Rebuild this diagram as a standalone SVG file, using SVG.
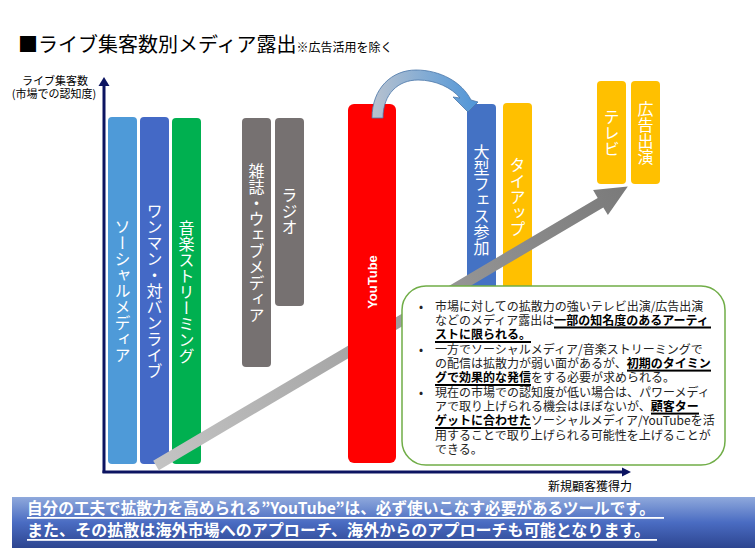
<svg xmlns="http://www.w3.org/2000/svg" width="755" height="551" viewBox="0 0 755 551">
<style>
.jp{font-family:"Noto Sans CJK JP","Noto Sans CJK SC",sans-serif;}
.vt{font-family:"Noto Sans CJK JP","Noto Sans CJK SC",sans-serif;font-size:16px;fill:#fff;writing-mode:vertical-rl;text-anchor:middle;}
.bt{font-family:"Noto Sans CJK JP","Noto Sans CJK SC",sans-serif;font-size:12px;fill:#222;}
.b{font-weight:bold;fill:#000;}
.ul{fill:#000;}
.bn{font-family:"Noto Sans CJK JP","Noto Sans CJK SC",sans-serif;font-size:16px;font-weight:bold;fill:#fff;}
</style>
<defs>
<linearGradient id="gGrey" gradientUnits="userSpaceOnUse" x1="156" y1="465" x2="627" y2="186">
<stop offset="0" stop-color="#c4c4c4"/><stop offset="1" stop-color="#7a7a7a"/>
</linearGradient>
<linearGradient id="gCurve" gradientUnits="userSpaceOnUse" x1="372" y1="0" x2="478" y2="0">
<stop offset="0" stop-color="#b8c2cf"/><stop offset="1" stop-color="#4e95d8"/>
</linearGradient>
<linearGradient id="gBanner" x1="0" y1="0" x2="0" y2="1">
<stop offset="0" stop-color="#8fa9dc"/><stop offset="0.5" stop-color="#4a6cc2"/><stop offset="1" stop-color="#2d4590"/>
</linearGradient>
</defs>
<rect width="755" height="551" fill="#fff"/>

<g id="title">
<text class="jp" x="18" y="52" font-size="20" fill="#000">■ライブ集客数別メディア露出<tspan font-size="12">※広告活用を除く</tspan></text>
</g>
<g id="axis-labels">
<text class="jp" font-size="11" text-anchor="middle" fill="#000"><tspan x="55" y="85">ライブ集客数</tspan><tspan x="54" y="98">(市場での認知度)</tspan></text>
<text class="jp" x="590" y="491" font-size="12" text-anchor="middle" fill="#000">新規顧客獲得力</text>
</g>

<g id="axes" fill="#0c1461">
<rect x="102.5" y="83" width="3" height="390"/>
<polygon points="104,77 98.5,86 109.5,86"/>
<rect x="102.5" y="470.5" width="522" height="3"/>
<polygon points="631,472 622,467.5 622,476.5"/>
</g>

<g id="n-social"><rect x="108" y="117" width="29" height="347" rx="4" fill="#4e9ad8"/><text class="vt" x="122.5" y="291">ソーシャルメディア</text></g>
<g id="n-oneman"><rect x="140" y="117" width="29" height="347" rx="4" fill="#4469c6"/><text class="vt" x="154.5" y="291">ワンマン・対バンライブ</text></g>
<g id="n-streaming"><rect x="172" y="118" width="29" height="346" rx="4" fill="#00b050"/><text class="vt" x="186.5" y="292">音楽ストリーミング</text></g>
<g id="n-magazine"><rect x="242" y="118" width="29" height="249" rx="4" fill="#767171"/><text class="vt" x="256.5" y="243">雑誌・ウェブメディア</text></g>
<g id="n-radio"><rect x="275" y="118" width="29" height="188" rx="4" fill="#767171"/><text class="vt" x="289.5" y="211">ラジオ</text></g>
<g id="n-fes"><rect x="467" y="104" width="29" height="300" rx="4" fill="#4472c4"/><text class="vt" x="481.5" y="200">大型フェス参加</text></g>
<g id="n-tieup"><rect x="503" y="103" width="29" height="300" rx="4" fill="#ffc000"/><text class="vt" x="517.5" y="197">タイアップ</text></g>
<g id="n-tv"><rect x="597" y="81" width="29" height="103" rx="4" fill="#ffc000"/><text class="vt" x="611.5" y="133">テレビ</text></g>
<g id="n-ad"><rect x="631" y="81" width="29" height="103" rx="4" fill="#ffc000"/><text class="vt" x="645.5" y="133">広告出演</text></g>
<g id="n-youtube"><rect x="348" y="104" width="48" height="359" rx="6" fill="#ff0000"/><text x="372" y="282" transform="rotate(-90 372 282)" text-anchor="middle" dominant-baseline="central" font-family="Liberation Sans, Arial, sans-serif" font-weight="bold" font-size="13" fill="#fff">YouTube</text></g>

<g id="connectors">
<polygon fill="url(#gGrey)" points="153.2,460.8 158.8,470.2 348,358.4 348,345.7"/>
<polygon fill="url(#gGrey)" points="396,317.3 396,330 603.3,207.4 607.9,215 627.8,186.4 593.1,190 597.7,198"/>
<path fill="url(#gCurve)" stroke="#4a76a8" stroke-width="0.8" d="M372,118 C372,88 392,70 416,70 C440,70 462,82 471,100 L478,102 L468,112 L453,97 L460,98 C452,88 436,80 418,80 C398,80 383,94 383,118 Z"/>
</g>

<g id="n-note">
<rect x="402" y="286" width="323" height="179" rx="24" fill="#fff" stroke="#70ad47" stroke-width="1.5"/>
<text class="bt" font-size="10"><tspan x="419" y="310.5">•</tspan><tspan x="419" y="353.5">•</tspan><tspan x="419" y="396.6">•</tspan></text>
<text class="bt"><tspan x="435" y="310.5">市場に対しての拡散力の強いテレビ出演/広告出演</tspan><tspan x="435" y="324.8">などのメディア露出は</tspan><tspan class="b">一部の知名度のあるアーティ</tspan><tspan class="b" x="435" y="339.2">ストに限られる。</tspan><tspan x="435" y="353.5">一方でソーシャルメディア/音楽ストリーミングで</tspan><tspan x="435" y="367.9">の配信は拡散力が弱い面があるが、</tspan><tspan class="b">初期のタイミン</tspan><tspan class="b" x="435" y="382.2">グで効果的な発信</tspan><tspan>をする必要が求められる。</tspan><tspan x="435" y="396.6">現在の市場での認知度が低い場合は、パワーメディ</tspan><tspan x="435" y="410.9">アで取り上げられる機会はほぼないが、</tspan><tspan class="b">顧客ター</tspan><tspan class="b" x="435" y="425.3">ゲットに合わせた</tspan><tspan>ソーシャルメディア/YouTubeを活</tspan><tspan x="435" y="439.6">用することで取り上げられる可能性を上げることが</tspan><tspan x="435" y="454">できる。</tspan></text>
<rect class="ul" x="554" y="326.5" width="157" height="2"/>
<rect class="ul" x="435" y="341" width="96" height="2"/>
<rect class="ul" x="627" y="369.6" width="84" height="2"/>
<rect class="ul" x="435" y="384" width="96" height="2"/>
<rect class="ul" x="651" y="412.6" width="48" height="2"/>
<rect class="ul" x="435" y="427" width="96" height="2"/>
</g>

<g id="banner">
<rect x="12" y="497" width="743" height="51" fill="url(#gBanner)"/>
<text class="bn"><tspan x="27" y="514" textLength="628" lengthAdjust="spacingAndGlyphs">自分の工夫で拡散力を高められる”YouTube”は、必ず使いこなす必要があるツールです。</tspan><tspan x="27" y="536" textLength="623" lengthAdjust="spacingAndGlyphs">また、その拡散は海外市場へのアプローチ、海外からのアプローチも可能となります。</tspan></text>
<rect x="27" y="517" width="637" height="1.8" fill="#fff"/>
<rect x="27" y="539" width="630" height="1.8" fill="#fff"/>
</g>
</svg>
